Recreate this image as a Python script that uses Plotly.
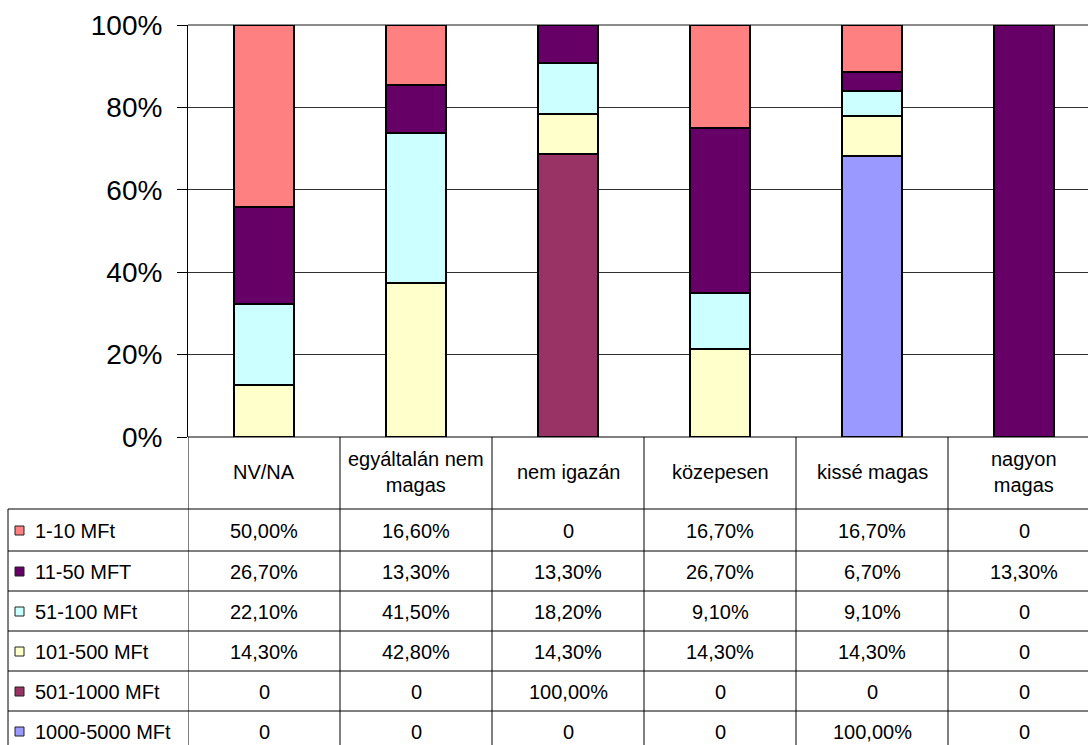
import plotly.graph_objects as go

# Categories (columns of the data table)
categories = ["NV/NA", "egyáltalán nem<br>magas", "nem igazán", "közepesen",
              "kissé magas", "nagyon<br>magas"]

# Series (rows of the data table), values in percent
series_names = ["1-10 MFt", "11-50 MFT", "51-100 MFt", "101-500 MFt",
                "501-1000 MFt", "1000-5000 MFt"]
v_1_10 = [50.0, 16.6, 0, 16.7, 16.7, 0]
v_11_50 = [26.7, 13.3, 13.3, 26.7, 6.7, 13.3]
v_51_100 = [22.1, 41.5, 18.2, 9.1, 9.1, 0]
v_101_500 = [14.3, 42.8, 14.3, 14.3, 14.3, 0]
v_501_1000 = [0, 0, 100.0, 0, 0, 0]
v_1000_5000 = [0, 0, 0, 0, 100.0, 0]
series_values = [v_1_10, v_11_50, v_51_100, v_101_500, v_501_1000, v_1000_5000]

y_ticks = [0, 20, 40, 60, 80, 100]
y_tick_labels = [f"{t}%" for t in y_ticks]

colors = ["#FF8080", "#660066", "#CCFFFF", "#FFFFCC", "#993366", "#9999FF"]

W, H = 1088, 745
FONT = "Liberation Sans, Arial, sans-serif"
TABLE_FONT = 20


def px(x):
    return x / W


def py(y):
    return 1 - y / H


PLOT_LEFT, PLOT_TOP, PLOT_BOTTOM = 188, 25, 437
CAT_W = 152
x_end = -0.5 + (W - PLOT_LEFT) / CAT_W

fig = go.Figure()

# stack from the bottom series upward
for name, vals, col in reversed(list(zip(series_names, series_values, colors))):
    fig.add_trace(go.Bar(
        x=list(range(len(categories))),
        y=[v if v else None for v in vals],
        name=name,
        marker=dict(color=col, line=dict(color="#000000", width=2)),
        showlegend=False,
    ))

fig.update_layout(
    width=W, height=H,
    margin=dict(l=0, r=0, t=0, b=0, pad=0),
    paper_bgcolor="white", plot_bgcolor="white",
    barmode="stack", barnorm="percent", bargap=0.61,
    font=dict(family=FONT, color="black"),
    xaxis=dict(domain=[px(PLOT_LEFT), 1], range=[-0.5, x_end],
               automargin=False,
               showticklabels=False, showgrid=False, zeroline=False,
               showline=False, ticks=""),
    yaxis=dict(domain=[py(PLOT_BOTTOM), py(PLOT_TOP)], range=[0, 100],
               automargin=False,
               tickmode="array", tickvals=y_ticks, ticktext=y_tick_labels,
               tickfont=dict(size=28, family=FONT, color="black"),
               ticks="outside", ticklen=10, tickcolor="black", tickwidth=1,
               ticklabelstandoff=9,
               showgrid=True, gridcolor="#303030", gridwidth=1,
               zeroline=False, showline=True, linecolor="black", linewidth=1),
)

shapes = []
annots = []
line = dict(color="black", width=1)

# top border of the plot area
shapes.append(dict(type="line", xref="paper", yref="paper",
                   x0=px(PLOT_LEFT), x1=1, y0=py(PLOT_TOP), y1=py(PLOT_TOP),
                   line=dict(color="#8c8c8c", width=2), layer="below"))

# data table geometry
header_top, header_bottom = PLOT_BOTTOM, 509
row_edges = [509, 551, 591, 631, 671, 711, 751]
table_left = 8

shapes.append(dict(type="line", xref="paper", yref="paper",
                   x0=px(PLOT_LEFT), x1=1, y0=py(header_top), y1=py(header_top),
                   line=line))
for ry in row_edges[:-1]:
    shapes.append(dict(type="line", xref="paper", yref="paper",
                       x0=px(table_left), x1=1, y0=py(ry), y1=py(ry), line=line))
shapes.append(dict(type="line", xref="paper", yref="paper",
                   x0=px(table_left), x1=px(table_left),
                   y0=py(header_bottom), y1=py(row_edges[-1]), line=line))
for i in range(len(categories) + 1):
    shapes.append(dict(type="line", xref="x", yref="paper",
                       x0=i - 0.5, x1=i - 0.5,
                       y0=py(header_top), y1=py(row_edges[-1]), line=line))

# header cells
for i, cat in enumerate(categories):
    annots.append(dict(xref="x", yref="paper", x=i,
                       y=py((header_top + header_bottom) / 2 - 1),
                       text=cat, showarrow=False,
                       font=dict(size=TABLE_FONT, family=FONT, color="black"),
                       xanchor="center", yanchor="middle"))


def fmt(v):
    return "0" if v == 0 else f"{v:.2f}%".replace(".", ",")


for r, (name, vals, col) in enumerate(zip(series_names, series_values, colors)):
    yc = (row_edges[r] + row_edges[r + 1]) / 2
    # legend key square
    shapes.append(dict(type="rect", xref="paper", yref="paper",
                       x0=px(15), x1=px(24), y0=py(yc - 4), y1=py(yc + 5),
                       fillcolor=col, line=dict(color="#202020", width=1)))
    annots.append(dict(xref="paper", yref="paper", x=px(33), y=py(yc + 1),
                       text=name, showarrow=False,
                       font=dict(size=TABLE_FONT, family=FONT, color="black"),
                       xanchor="left", yanchor="middle"))
    for i, v in enumerate(vals):
        annots.append(dict(xref="x", yref="paper", x=i, y=py(yc + 1),
                           text=fmt(v), showarrow=False,
                           font=dict(size=TABLE_FONT, family=FONT, color="black"),
                           xanchor="center", yanchor="middle"))

fig.update_layout(shapes=shapes, annotations=annots)
fig.write_html("out.html")
